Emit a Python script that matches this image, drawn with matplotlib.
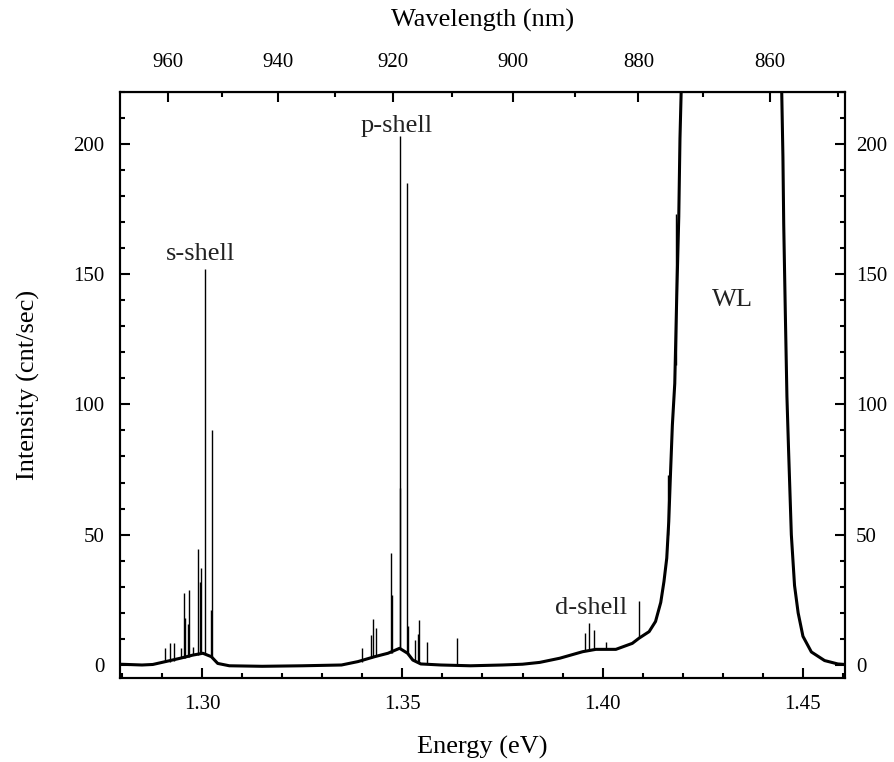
import numpy as np
import matplotlib
matplotlib.use("Agg")
import matplotlib.pyplot as plt
from matplotlib.ticker import MultipleLocator, FixedLocator, FormatStrFormatter

# smooth background of the PL spectrum (energy in eV, intensity in cnt/sec)
base_energy = [1.2795, 1.2850, 1.2877, 1.2900, 1.2943, 1.2977, 1.3002, 1.3023, 1.3039,
               1.3068, 1.3150, 1.3250, 1.3348, 1.3389, 1.3431, 1.3464, 1.3493, 1.3513,
               1.3526, 1.3546, 1.3596, 1.3670, 1.3750, 1.3800, 1.3843, 1.3893, 1.3950,
               1.3983, 1.4033, 1.4074, 1.4091, 1.4116, 1.4132, 1.4145, 1.4153, 1.4160,
               1.4165, 1.4169, 1.4174, 1.4180, 1.4185, 1.4190, 1.4193, 1.4196, 1.4200,
               1.4320, 1.4443, 1.4447, 1.4450, 1.4452, 1.4456, 1.4460, 1.4464, 1.4471,
               1.4479, 1.4488, 1.4500, 1.4521, 1.4554, 1.4587, 1.4605]
base_counts = [0.3, 0.0, 0.2, 1.0, 2.5, 3.8, 4.5, 3.2, 0.6,
               -0.3, -0.5, -0.3, 0.0, 1.3, 3.2, 4.5, 6.4, 4.5,
               1.9, 0.4, 0.0, -0.3, 0.0, 0.3, 1.0, 2.6, 5.1,
               6.0, 6.0, 8.3, 10.3, 12.8, 16.7, 24.0, 32.0, 41.0,
               55.0, 72.0, 92.0, 108.0, 142.0, 172.0, 202.0, 220.0, 260.0,
               700.0, 260.0, 220.0, 195.0, 169.0, 135.0, 103.0, 83.0, 50.0,
               30.5, 20.0, 11.0, 5.0, 1.7, 0.4, 0.2]

# sharp single-dot lines: position, top and foot of each line
peak_energy = [1.2908, 1.2921, 1.2931, 1.2947, 1.2954, 1.2958, 1.2966, 1.2968, 1.2978,
               1.2989, 1.2996, 1.2998, 1.3008, 1.3023, 1.3025,
               1.3399, 1.3422, 1.3426, 1.3435, 1.3472, 1.3474, 1.3493, 1.3495, 1.3511,
               1.3515, 1.3531, 1.3538, 1.3542, 1.3562, 1.3636,
               1.3957, 1.3967, 1.3979, 1.4008, 1.4091, 1.4163, 1.4183]
peak_top = [6.4, 8.3, 8.3, 6.4, 27.6, 18.0, 15.6, 28.6, 7.0,
            44.5, 32.0, 37.2, 152.0, 21.0, 90.0,
            6.4, 11.5, 17.7, 14.1, 43.0, 27.0, 203.0, 68.0, 185.0,
            15.0, 9.5, 12.0, 17.3, 8.9, 10.5,
            12.2, 16.0, 13.5, 9.0, 24.4, 73.0, 173.0]
peak_foot = [1.0, 1.2, 1.5, 2.5, 2.6, 2.7, 3.0, 3.0, 3.8,
             4.0, 4.3, 4.4, 4.5, 3.2, 3.0,
             1.2, 2.8, 3.0, 3.3, 4.6, 4.7, 6.4, 6.4, 4.8,
             4.3, 1.5, 1.0, 0.8, 0.2, 0.0,
             5.2, 5.5, 5.8, 6.0, 10.3, 50.0, 115.0]

labels = ["s-shell", "p-shell", "d-shell", "WL"]
label_energy = [1.2995, 1.3485, 1.3970, 1.4325]
label_counts = [153.5, 202.5, 17.8, 135.8]

nm_ticks = [960, 940, 920, 900, 880, 860]
nm_minor = [950, 930, 910, 890, 870, 850]

plt.rcParams["font.family"] = ["Liberation Serif", "DejaVu Serif"]

fig = plt.figure(figsize=(8.94, 7.62), dpi=100)
ax = fig.add_axes([0.1342, 0.1102, 0.8110, 0.7697])

ax.plot(base_energy, base_counts, color="black", lw=2.2)
ax.vlines(peak_energy, peak_foot, peak_top, color="black", lw=1.0)

for txt, e, c in zip(labels, label_energy, label_counts):
    ax.text(e, c, txt, fontsize=19, ha="center", va="bottom", color="#222222")

ax.set_xlim(1.2795, 1.4605)
ax.set_ylim(-5, 220)
ax.xaxis.set_major_locator(MultipleLocator(0.05))
ax.xaxis.set_minor_locator(MultipleLocator(0.01))
ax.xaxis.set_major_formatter(FormatStrFormatter("%.2f"))
ax.yaxis.set_major_locator(MultipleLocator(50))
ax.yaxis.set_minor_locator(MultipleLocator(10))

for s in ax.spines.values():
    s.set_linewidth(1.5)
ax.tick_params(which="both", direction="in", width=1.5, labelsize=15, top=False, right=False)
ax.tick_params(which="major", length=7)
ax.tick_params(which="minor", length=3.5)
ax.tick_params(axis="y", pad=11)
ax.tick_params(axis="x", pad=12)

ax.set_xlabel("Energy (eV)", fontsize=19, labelpad=16)
ax.set_ylabel("Intensity (cnt/sec)", fontsize=19, labelpad=24)


def ev_to_nm(e):
    e = np.asarray(e, dtype=float)
    with np.errstate(divide="ignore"):
        return 1239.84 / e


top = ax.secondary_xaxis("top", functions=(ev_to_nm, ev_to_nm))
top.xaxis.set_major_locator(FixedLocator(nm_ticks))
top.xaxis.set_minor_locator(FixedLocator(nm_minor))
top.tick_params(which="both", direction="in", width=1.5, labelsize=15, pad=14)
top.tick_params(which="major", length=7)
top.tick_params(which="minor", length=3.5)
top.set_xlabel("Wavelength (nm)", fontsize=19, labelpad=19)

# right-hand copy of the intensity axis
right = ax.twinx()
right.set_ylim(ax.get_ylim())
right.yaxis.set_major_locator(MultipleLocator(50))
right.yaxis.set_minor_locator(MultipleLocator(10))
right.tick_params(which="both", direction="in", width=1.5, labelsize=15, pad=8)
right.tick_params(which="major", length=7)
right.tick_params(which="minor", length=3.5)
right.xaxis.set_visible(False)
for s in right.spines.values():
    s.set_linewidth(1.5)

fig.savefig("out.png", dpi=100)
